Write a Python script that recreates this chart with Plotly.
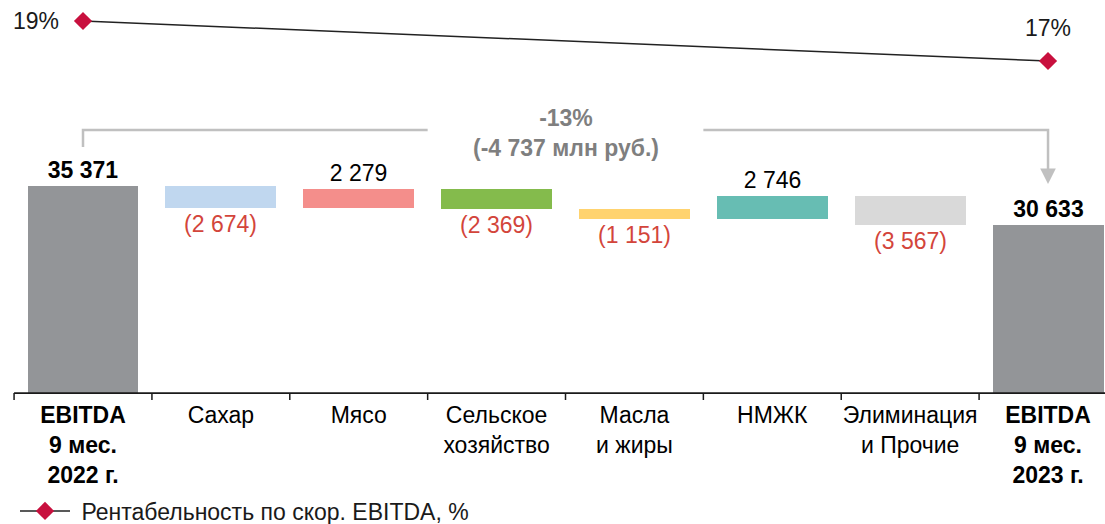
import plotly.graph_objects as go

# --- data -------------------------------------------------------------
categories = [
    "EBITDA 9 мес. 2022 г.", "Сахар", "Мясо", "Сельское хозяйство",
    "Масла и жиры", "НМЖК", "Элиминация и Прочие", "EBITDA 9 мес. 2023 г.",
]
tick_labels = [
    "<b>EBITDA<br>9 мес.<br>2022 г.</b>", "Сахар", "Мясо", "Сельское<br>хозяйство",
    "Масла<br>и жиры", "НМЖК", "Элиминация<br>и Прочие", "<b>EBITDA<br>9 мес.<br>2023 г.</b>",
]
ebitda_start = 35371
ebitda_end = 30633
segment_changes = [-2674, 2279, -2369, -1151, 2746, -3567]
margin_pct = [19, 17]
change_label = "-13%<br>(-4 737 млн руб.)"
legend_name = "Рентабельность по скор. EBITDA, %"

bar_colors = ["#939598", "#c0d7ef", "#f48e8b", "#84bb4c", "#ffd36f", "#67bdb3", "#d9d9d9", "#939598"]

# --- layout constants ---------------------------------------------------
W, H = 1105, 524
PLOT_H = 393            # plot area height (top margin 0)
FONT = "Liberation Sans, Arial, sans-serif"
FS = 23
RED = "#d3453b"
BRACKET = "#c0c0c0"


def py(px):
    """pixel row (from top) -> paper y"""
    return 1 - px / PLOT_H


def fmt(v):
    s = f"{abs(v):,}".replace(",", " ")
    return f"({s})" if v < 0 else s


# waterfall geometry
values = [ebitda_start] + segment_changes + [ebitda_end]
bases = [0]
running = ebitda_start
for c in segment_changes:
    bases.append(running)
    running += c
bases.append(0)

labels, label_colors = [], []
for i, v in enumerate(values):
    if i in (0, len(values) - 1):
        labels.append(f"<b>{fmt(v)}</b>")
        label_colors.append("#000000")
    else:
        labels.append(fmt(v))
        label_colors.append(RED if v < 0 else "#000000")

x = list(range(len(categories)))

fig = go.Figure()
fig.add_trace(go.Bar(
    x=x, y=values, base=bases,
    marker=dict(color=bar_colors, line=dict(width=0)),
    width=0.805,
    text=labels, textposition="outside", constraintext="none",
    textfont=dict(family=FONT, size=FS, color=label_colors),
    cliponaxis=False, showlegend=False, hoverinfo="skip",
))

fig.add_trace(go.Scatter(
    x=[0, len(categories) - 1], y=margin_pct, yaxis="y2",
    mode="lines+markers", name="\u00a0" + legend_name,
    line=dict(color="#222222", width=1.5),
    marker=dict(symbol="diamond", size=14, color="#c8103e"),
    cliponaxis=False, hoverinfo="skip",
))

annotations = [
    dict(x=0, y=margin_pct[0], xref="x", yref="y2", text=f"{margin_pct[0]}%",
         showarrow=False, xanchor="right", yanchor="middle", xshift=-22,
         font=dict(family=FONT, size=FS, color="#1a1a1a")),
    dict(x=len(categories) - 1, y=margin_pct[1], xref="x", yref="y2", text=f"{margin_pct[1]}%",
         showarrow=False, xanchor="center", yanchor="middle", yshift=33,
         font=dict(family=FONT, size=FS, color="#1a1a1a")),
    dict(x=3.5, y=py(133), xref="x", yref="paper", text=f"<b>{change_label}</b>",
         showarrow=False, xanchor="center", yanchor="middle",
         font=dict(family=FONT, size=FS, color="#7f7f7f")),
    # arrow head on the right leg of the bracket
    dict(x=len(categories) - 1, y=py(184), xref="x", yref="paper", text="",
         showarrow=True, ax=0, ay=-16, arrowhead=2, arrowsize=1.25,
         arrowwidth=2.5, arrowcolor=BRACKET, standoff=0),
]

shapes = [
    # bracket
    dict(type="path", xref="x", yref="paper",
         path=f"M 0,{py(147)} L 0,{py(130)} L 2.5,{py(130)}",
         line=dict(color=BRACKET, width=2.5)),
    dict(type="path", xref="x", yref="paper",
         path=f"M 4.5,{py(130)} L 7,{py(130)} L 7,{py(172)}",
         line=dict(color=BRACKET, width=2.5)),
    # category axis line
    dict(type="line", xref="x", yref="paper", x0=-0.5, x1=7.5, y0=0, y1=0,
         line=dict(color="#1a1a1a", width=1.75)),
]
for k in range(len(categories)):
    shapes.append(dict(type="line", xref="x", yref="paper",
                       x0=k - 0.5, x1=k - 0.5, y0=0, y1=py(PLOT_H + 7),
                       line=dict(color="#1a1a1a", width=1.5)))

cat_px = 137.86
x0 = -83 / cat_px
fig.update_layout(
    width=W, height=H,
    margin=dict(l=0, r=0, t=0, b=H - PLOT_H, pad=0, autoexpand=False),
    paper_bgcolor="white", plot_bgcolor="white",
    font=dict(family=FONT, size=FS, color="#000000"),
    bargap=0,
    xaxis=dict(range=[x0, x0 + W / cat_px], tickvals=x, ticktext=tick_labels,
               showgrid=False, zeroline=False, showline=False, ticks="",
               ticklabelstandoff=6, automargin=False,
               tickfont=dict(family=FONT, size=FS, color="#000000"),
               fixedrange=True),
    yaxis=dict(range=[10500, 57719], visible=False, fixedrange=True),
    yaxis2=dict(range=[0.4, 20.05], overlaying="y", visible=False, fixedrange=True),
    showlegend=True,
    legend=dict(xref="container", yref="container",
                x=15 / W, y=1 - 511 / H, xanchor="left", yanchor="middle",
                orientation="h", itemwidth=50,
                font=dict(family=FONT, size=FS, color="#1a1a1a"),
                bgcolor="rgba(0,0,0,0)"),
    shapes=shapes, annotations=annotations,
)

fig.write_html("out.html")
